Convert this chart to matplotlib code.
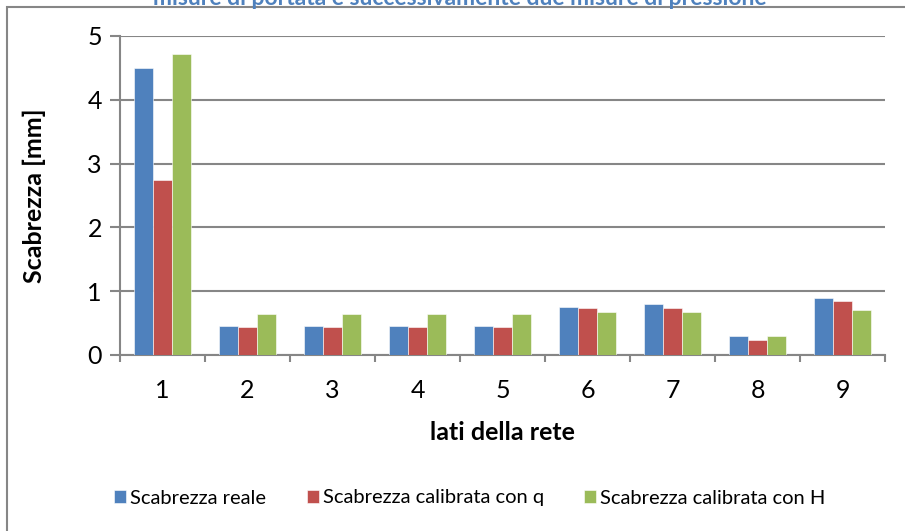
import matplotlib.pyplot as plt
import matplotlib.patches as mpatches
import numpy as np

plt.rcParams['font.family'] = ['Lato', 'DejaVu Sans']

lati = ['1', '2', '3', '4', '5', '6', '7', '8', '9']
reale = [4.50, 0.45, 0.45, 0.45, 0.45, 0.75, 0.80, 0.29, 0.90]
cal_q = [2.74, 0.44, 0.44, 0.44, 0.44, 0.74, 0.74, 0.235, 0.84]
cal_H = [4.72, 0.64, 0.64, 0.64, 0.64, 0.67, 0.67, 0.29, 0.71]
serie = ['Scabrezza reale', 'Scabrezza calibrata con q', 'Scabrezza calibrata con H']
colori = ['#4F81BD', '#C0504D', '#9BBB59']
grigio = '#868686'

fig = plt.figure(figsize=(9.05, 5.31), dpi=100)
ax = fig.add_axes([120 / 905, 1 - 355 / 531, 765 / 905, 319 / 531])

x = np.arange(1, len(lati) + 1)
w = 0.224
for k, (vals, nome, col) in enumerate(zip([reale, cal_q, cal_H], serie, colori)):
    ax.bar(x + (k - 1) * w, vals, width=w, color=col, label=nome, zorder=3,
           edgecolor='white', linewidth=0.4)

ax.set_xlim(0.5, 9.5)
ax.set_ylim(0, 5)
ax.set_yticks(range(0, 6))
ax.set_xticks(x)
ax.set_xticklabels(lati)
ax.set_xticks(np.arange(0.5, 10, 1), minor=True)
ax.tick_params(axis='x', which='major', length=0, labelsize=18, pad=17)
ax.tick_params(axis='x', which='minor', length=5, width=1.5, color=grigio)
ax.tick_params(axis='y', length=7, width=1.5, color=grigio, labelsize=18, pad=6)
ax.grid(axis='y', color=grigio, linewidth=1.5, zorder=0)
for s in ['top', 'right']:
    ax.spines[s].set_visible(False)
for s in ['left', 'bottom']:
    ax.spines[s].set_color(grigio)
    ax.spines[s].set_linewidth(1.5)

ax.set_xlabel('lati della rete', fontsize=18, fontweight='bold', labelpad=14)
ax.set_ylabel('Scabrezza [mm]', fontsize=18, fontweight='bold', labelpad=30)

fig.text(460 / 905, 1 - 5 / 531, 'misure di portata e successivamente due misure di pressione',
         ha='center', va='baseline', fontsize=16.5, fontweight='bold', color='#4F81BD')

# bordo dell'area del grafico
fig.patches.append(mpatches.Rectangle((7 / 905, -0.1), 1.2, 1.1 - 7 / 531, transform=fig.transFigure,
                                      fill=False, edgecolor=grigio, linewidth=1.5))

fig.legend(loc='center', bbox_to_anchor=(470 / 905, 1 - 498 / 531), ncol=3, frameon=False,
           fontsize=14.5, handlelength=0.6, handleheight=0.6, handletextpad=0.2, columnspacing=2.0)

fig.savefig('out.png', dpi=100)
